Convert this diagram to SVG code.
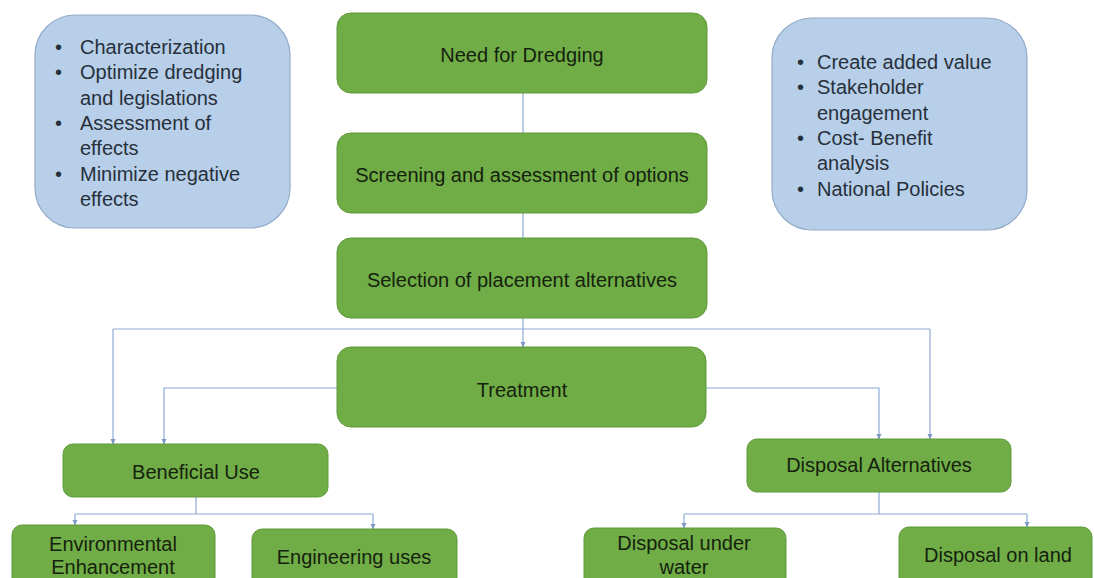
<svg xmlns="http://www.w3.org/2000/svg" width="1094" height="578" viewBox="0 0 1094 578">
<defs>
<style>
.g{fill:#70ad47;stroke:#5f9a3c;stroke-width:1}
.b{fill:#b7cfe9;stroke:#93abc9;stroke-width:1.2}
.t{font-family:"Liberation Sans",Arial,sans-serif;font-size:20px;fill:#15220e;text-anchor:middle}
.l{font-family:"Liberation Sans",Arial,sans-serif;font-size:20px;fill:#27303b}
.c{fill:none;stroke:#8eaad6;stroke-width:1.2}
</style>
<marker id="a" markerWidth="6" markerHeight="6" refX="5" refY="3" orient="auto" markerUnits="userSpaceOnUse">
<path d="M0,0.5 L5.5,3 L0,5.5 Z" fill="#7d98c4"/>
</marker>
</defs>
<rect width="1094" height="578" fill="#ffffff"/>
<g id="connectors">
<path class="c" d="M523,93 V133"/>
<path class="c" d="M523,213 V238"/>
<path class="c" d="M523,318 V347" marker-end="url(#a)"/>
<path class="c" d="M113,329 H930"/>
<path class="c" d="M113,329 V444" marker-end="url(#a)"/>
<path class="c" d="M930,329 V439" marker-end="url(#a)"/>
<path class="c" d="M337,388 H164 V444" marker-end="url(#a)"/>
<path class="c" d="M706,388 H879 V439" marker-end="url(#a)"/>
<path class="c" d="M196,497 V514"/>
<path class="c" d="M75,514 H373"/>
<path class="c" d="M75,514 V525" marker-end="url(#a)"/>
<path class="c" d="M373,514 V529" marker-end="url(#a)"/>
<path class="c" d="M879,492 V514"/>
<path class="c" d="M684,514 H1027"/>
<path class="c" d="M684,514 V528" marker-end="url(#a)"/>
<path class="c" d="M1027,514 V527" marker-end="url(#a)"/>
</g>
<g id="left-notes">
<rect class="b" x="35" y="15" width="255" height="213" rx="40"/>
<text class="l" x="55" y="54">•</text><text class="l" x="80" y="54">Characterization</text>
<text class="l" x="55" y="79">•</text><text class="l" x="80" y="79">Optimize dredging</text>
<text class="l" x="80" y="105">and legislations</text>
<text class="l" x="55" y="130">•</text><text class="l" x="80" y="130">Assessment of</text>
<text class="l" x="80" y="155">effects</text>
<text class="l" x="55" y="181">•</text><text class="l" x="80" y="181">Minimize negative</text>
<text class="l" x="80" y="206">effects</text>
</g>
<g id="right-notes">
<rect class="b" x="772" y="18" width="255" height="212" rx="40"/>
<text class="l" x="797" y="69">•</text><text class="l" x="817" y="69">Create added value</text>
<text class="l" x="797" y="94">•</text><text class="l" x="817" y="94">Stakeholder</text>
<text class="l" x="817" y="120">engagement</text>
<text class="l" x="797" y="145">•</text><text class="l" x="817" y="145">Cost- Benefit</text>
<text class="l" x="817" y="170">analysis</text>
<text class="l" x="797" y="196">•</text><text class="l" x="817" y="196">National Policies</text>
</g>
<g id="need">
<rect class="g" x="337" y="13" width="370" height="80" rx="14"/>
<text class="t" x="522" y="62">Need for Dredging</text>
</g>
<g id="screening">
<rect class="g" x="337" y="133" width="370" height="80" rx="14"/>
<text class="t" x="522" y="182">Screening and assessment of options</text>
</g>
<g id="selection">
<rect class="g" x="337" y="238" width="370" height="80" rx="14"/>
<text class="t" x="522" y="287">Selection of placement alternatives</text>
</g>
<g id="treatment">
<rect class="g" x="337" y="347" width="369" height="80" rx="14"/>
<text class="t" x="522" y="397">Treatment</text>
</g>
<g id="beneficial">
<rect class="g" x="63" y="444" width="265" height="53" rx="10"/>
<text class="t" x="196" y="479">Beneficial Use</text>
</g>
<g id="disposal-alt">
<rect class="g" x="747" y="439" width="264" height="53" rx="10"/>
<text class="t" x="879" y="472">Disposal Alternatives</text>
</g>
<g id="environmental">
<rect class="g" x="12" y="525" width="203" height="70" rx="10"/>
<text class="t" x="113" y="551">Environmental</text>
<text class="t" x="113" y="574">Enhancement</text>
</g>
<g id="engineering">
<rect class="g" x="252" y="529" width="205" height="66" rx="10"/>
<text class="t" x="354" y="564">Engineering uses</text>
</g>
<g id="under-water">
<rect class="g" x="584" y="528" width="202" height="67" rx="10"/>
<text class="t" x="684" y="550">Disposal under</text>
<text class="t" x="684" y="574">water</text>
</g>
<g id="on-land">
<rect class="g" x="899" y="527" width="193" height="68" rx="10"/>
<text class="t" x="998" y="562">Disposal on land</text>
</g>
</svg>
